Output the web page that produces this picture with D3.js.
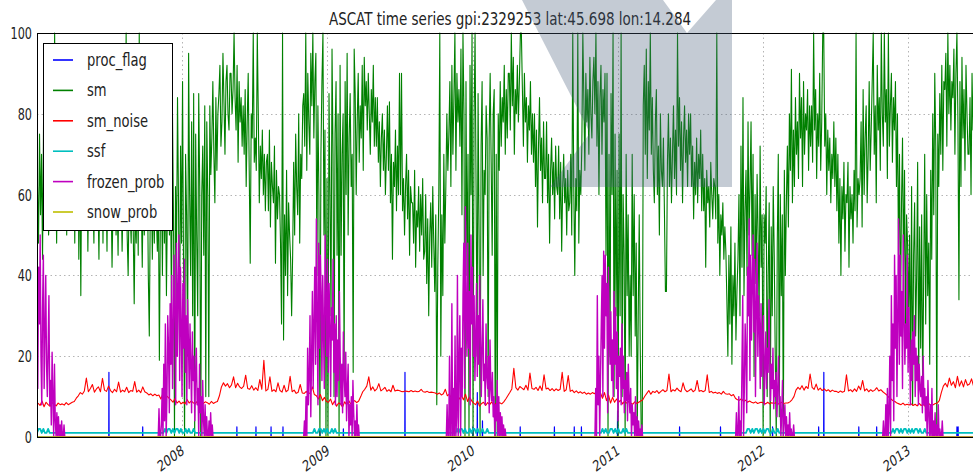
<!DOCTYPE html>
<html>
<head>
<meta charset="utf-8">
<script src="https://cdn.jsdelivr.net/npm/d3@7"></script>
<style>
  body { margin: 0; background: #fff; }
  svg { display: block; }
</style>
</head>
<body>
<svg id="chart" width="973" height="473"></svg>
<script>
// ---- labels and ticks ----
const chartTitle = 'ASCAT time series gpi:2329253 lat:45.698 lon:14.284';
const seriesNames = ['proc_flag', 'sm', 'sm_noise', 'ssf', 'frozen_prob', 'snow_prob'];
const seriesColors = ['#0000ff', '#008000', '#ff0000', '#00bfbf', '#bf00bf', '#bfbf00'];
const yTicks = [0, 20, 40, 60, 80, 100];
const xTickYears = [2008, 2009, 2010, 2011, 2012, 2013];
const timeStart = '2007-01-01';
const timeEnd = '2013-07-01';

// ---- sm: twelve readings per month, one array per year ----
const smYears = [2007, 2008, 2009, 2010, 2011, 2012, 2013];
const smPerYear = 144;
const sm2007 = [
  62, 48, 75, 55, 70, 44, 78, 52, 66, 58, 72, 50,
  60, 74, 52, 80, 58, 100, 66, 48, 70, 62, 55, 76,
  68, 55, 80, 62, 74, 50, 85, 64, 72, 58, 78, 66,
  70, 48, 76, 60, 82, 44, 68, 35, 72, 56, 64, 74,
  58, 72, 46, 66, 80, 52, 74, 60, 48, 70, 62, 56,
  60, 44, 68, 55, 76, 48, 70, 52, 64, 46, 72, 58,
  52, 62, 42, 58, 70, 66, 50, 60, 45, 68, 54, 62,
  46, 60, 54, 72, 100, 50, 40, 62, 56, 48, 66, 52,
  33, 58, 48, 64, 45, 100, 54, 60, 42, 66, 50, 58,
  52, 70, 40, 25, 58, 66, 44, 62, 48, 72, 55, 46,
  60, 19, 55, 68, 40, 72, 48, 64, 35, 58, 70, 50,
  66, 30, 80, 55, 0, 62, 45, 84, 58, 20, 72, 48];
const sm2008 = [
  88, 40, 0, 70, 55, 20, 95, 60, 40, 78, 30, 85,
  0, 75, 50, 30, 85, 62, 0, 60, 72, 45, 82, 10,
  78, 60, 10, 82, 65, 74, 88, 70, 58, 84, 66, 80,
  85, 92, 72, 78, 95, 83, 70, 88, 92, 80, 76, 90,
  90, 80, 86, 100, 84, 76, 92, 68, 88, 78, 84, 72,
  82, 70, 86, 62, 78, 90, 66, 43, 80, 74, 100, 68,
  74, 66, 100, 80, 58, 72, 64, 76, 60, 70, 56, 68,
  70, 56, 76, 52, 68, 62, 58, 72, 43, 66, 54, 62,
  60, 48, 28, 100, 24, 55, 40, 66, 35, 58, 50, 44,
  30, 45, 68, 50, 75, 62, 55, 80, 48, 70, 64, 82,
  85, 72, 100, 66, 90, 78, 70, 95, 82, 100, 74, 88,
  95, 40, 82, 60, 0, 70, 88, 100, 50, 76, 0, 64];
const sm2009 = [
  0, 85, 60, 30, 96, 70, 10, 75, 88, 45, 80, 0,
  92, 45, 70, 80, 16, 88, 60, 95, 50, 74, 85, 62,
  70, 16, 96, 85, 60, 78, 90, 68, 82, 74, 92, 66,
  94, 82, 88, 76, 90, 80, 70, 86, 78, 92, 72, 84,
  72, 84, 68, 78, 62, 74, 80, 66, 76, 60, 70, 82,
  66, 83, 58, 70, 44, 68, 62, 76, 56, 72, 60, 90,
  60, 90, 56, 64, 50, 62, 70, 54, 66, 45, 62, 58,
  58, 48, 66, 42, 56, 52, 62, 46, 60, 50, 64, 44,
  46, 60, 38, 54, 30, 50, 58, 42, 62, 48, 36, 55,
  8, 42, 60, 100, 20, 55, 35, 70, 48, 62, 80, 66,
  75, 88, 62, 92, 70, 84, 100, 66, 90, 78, 86, 72,
  96, 55, 100, 80, 0, 88, 40, 70, 0, 92, 60, 100];
const sm2010 = [
  0, 78, 100, 62, 20, 85, 50, 0, 72, 88, 40, 66,
  60, 82, 74, 10, 74, 90, 68, 45, 80, 86, 0, 70,
  0, 80, 66, 88, 72, 84, 78, 92, 70, 86, 74, 90,
  90, 76, 100, 82, 94, 70, 86, 80, 92, 78, 88, 100,
  100, 86, 72, 90, 78, 84, 68, 82, 76, 88, 70, 80,
  68, 80, 62, 76, 52, 72, 84, 66, 74, 58, 78, 64,
  64, 78, 58, 70, 48, 66, 74, 60, 68, 54, 72, 62,
  60, 72, 54, 68, 46, 62, 70, 58, 64, 50, 66, 56,
  58, 70, 50, 100, 62, 40, 64, 56, 100, 48, 66, 60,
  72, 100, 84, 66, 90, 78, 86, 70, 94, 80, 74, 88,
  94, 80, 100, 72, 88, 60, 84, 92, 70, 86, 78, 90,
  45, 90, 0, 70, 20, 85, 60, 100, 10, 75, 30, 66];
const sm2011 = [
  0, 75, 30, 100, 10, 60, 45, 0, 70, 35, 55, 20,
  40, 20, 70, 35, 60, 25, 48, 0, 30, 55, 22, 0,
  0, 82, 92, 70, 96, 64, 88, 76, 100, 70, 84, 66,
  58, 78, 86, 60, 72, 50, 80, 66, 62, 74, 56, 36,
  36, 68, 80, 62, 74, 58, 70, 82, 64, 76, 60, 100,
  72, 84, 66, 78, 58, 74, 82, 68, 76, 62, 80, 70,
  80, 62, 72, 54, 68, 60, 74, 58, 70, 64, 76, 56,
  70, 56, 64, 42, 66, 58, 62, 52, 68, 60, 54, 64,
  62, 54, 100, 48, 60, 40, 55, 50, 58, 44, 52, 46,
  34, 20, 45, 28, 52, 18, 40, 30, 48, 24, 36, 44,
  60, 30, 72, 42, 84, 35, 56, 66, 40, 78, 50, 62,
  78, 45, 70, 15, 60, 38, 65, 50, 30, 72, 42, 55];
const sm2012 = [
  0, 55, 48, 62, 10, 40, 58, 0, 52, 30, 62, 45,
  20, 0, 48, 70, 5, 60, 35, 55, 0, 66, 40, 58,
  72, 52, 80, 66, 91, 58, 76, 62, 84, 70, 78, 64,
  90, 74, 84, 62, 88, 70, 80, 76, 86, 66, 82, 72,
  82, 68, 100, 76, 86, 64, 80, 72, 90, 66, 78, 100,
  100, 72, 80, 60, 76, 66, 74, 58, 70, 64, 78, 62,
  74, 56, 70, 48, 64, 40, 62, 54, 68, 46, 60, 58,
  68, 42, 62, 54, 60, 48, 66, 56, 100, 52, 64, 60,
  64, 78, 52, 86, 60, 74, 82, 58, 70, 88, 66, 76,
  88, 100, 70, 82, 58, 92, 76, 84, 66, 100, 80, 72,
  100, 78, 86, 64, 100, 72, 82, 90, 68, 84, 76, 88,
  62, 80, 45, 70, 30, 58, 74, 40, 66, 25, 55, 48];
const sm2013 = [
  30, 50, 15, 62, 8, 45, 58, 25, 40, 68, 12, 52,
  22, 55, 10, 40, 70, 28, 60, 35, 48, 18, 66, 44,
  80, 55, 90, 72, 0, 75, 62, 85, 70, 92, 66, 88,
  86, 95, 72, 100, 80, 92, 76, 88, 84, 96, 70, 90,
  100, 78, 34, 88, 62, 94, 74, 86, 66, 92, 80, 70,
  70, 84, 60, 90, 76, 82, 68, 88, 72, 80, 64, 86];

// ---- sm_noise: six readings per month ----
const noisePerYear = 72;
const noise2007 = [
  8.4, 7.8, 8.9, 7.5, 8.6, 8.0,
  7.6, 8.5, 8.1, 7.7, 8.4, 8.0,
  8.2, 7.9, 8.5, 8.0, 8.3, 8.6,
  8.8, 9.6, 10.2, 11.0, 10.6, 11.4,
  14.6, 11.2, 12.0, 13.0, 11.1, 11.9,
  12.4, 11.2, 14.5, 11.6, 11.3, 12.6,
  11.5, 11.0, 11.8, 11.2, 13.6, 11.1,
  11.6, 11.2, 12.3, 11.0, 11.5, 11.3,
  13.7, 11.1, 11.6, 11.0, 12.4, 11.2,
  10.9, 10.4, 10.7, 10.2, 10.6, 10.2,
  10.4, 9.4, 10.8, 9.2, 10.1, 9.6,
  9.2, 8.6, 9.5, 8.4, 8.9, 8.2];
const noise2008 = [
  8.6, 8.2, 9.3, 8.4, 8.9, 8.5,
  8.2, 8.8, 8.4, 7.6, 8.3, 8.7,
  8.5, 8.1, 8.8, 8.3, 8.6, 8.8,
  10.2, 12.4, 13.4, 12.6, 13.2, 12.2,
  12.9, 14.9, 12.2, 13.3, 12.4, 12.0,
  12.6, 15.3, 12.0, 11.8, 12.7, 11.6,
  12.2, 11.5, 14.2, 11.8, 19.0, 11.4,
  11.8, 14.9, 11.3, 11.7, 11.2, 13.4,
  11.5, 11.1, 12.8, 11.2, 11.6, 15.0,
  11.2, 11.6, 10.8, 11.1, 13.0, 10.9,
  10.8, 11.3, 10.6, 11.0, 12.4, 10.5,
  10.2, 9.4, 10.5, 9.0, 9.8, 8.8];
const noise2009 = [
  8.6, 9.4, 8.0, 8.9, 7.6, 8.4,
  8.2, 7.4, 8.7, 8.0, 9.0, 8.2,
  8.7, 9.0, 8.5, 8.9, 10.0, 11.2,
  11.8, 12.6, 14.9, 11.6, 12.4, 11.4,
  11.9, 13.2, 11.4, 11.8, 12.3, 11.3,
  11.7, 11.2, 12.8, 11.4, 11.6, 11.5,
  11.3, 11.2, 11.4, 11.3, 11.2, 11.5,
  11.2, 11.4, 11.2, 11.3, 11.8, 11.2,
  11.1, 11.3, 11.0, 11.1, 11.0, 10.9,
  10.6, 10.9, 10.4, 10.7, 11.8, 10.2,
  10.6, 9.6, 10.9, 9.8, 10.4, 9.4,
  10.2, 9.2, 10.6, 8.8, 9.9, 9.0];
const noise2010 = [
  8.4, 8.0, 8.9, 7.6, 8.3, 8.6,
  7.8, 8.5, 8.0, 8.7, 7.9, 8.3,
  8.2, 8.5, 8.2, 8.7, 9.4, 10.2,
  11.0, 11.9, 17.0, 12.2, 11.6, 12.5,
  12.1, 11.7, 12.8, 11.6, 15.8, 12.0,
  11.8, 12.3, 11.5, 12.6, 11.5, 15.4,
  11.9, 12.1, 11.5, 12.0, 11.4, 11.9,
  11.5, 11.8, 16.0, 11.3, 11.7, 15.2,
  11.3, 11.6, 11.0, 11.4, 10.9, 11.2,
  10.8, 11.1, 10.6, 10.9, 10.6, 11.0,
  10.7, 11.3, 10.3, 10.9, 9.6, 11.0,
  9.0, 10.4, 8.4, 9.8, 8.6, 9.4];
const noise2011 = [
  8.6, 9.1, 8.2, 8.9, 8.4, 8.8,
  8.4, 8.1, 8.7, 8.3, 8.6, 8.9,
  9.2, 10.1, 10.8, 11.5, 10.6, 11.3,
  11.0, 11.5, 10.8, 11.3, 11.7, 11.2,
  11.5, 15.6, 11.2, 11.7, 11.4, 12.1,
  11.5, 11.2, 13.4, 11.7, 11.2, 11.5,
  11.9, 11.2, 11.6, 14.0, 11.3, 11.5,
  11.2, 11.5, 15.4, 11.0, 11.3, 10.9,
  11.1, 10.8, 11.0, 10.6, 11.3, 10.7,
  10.6, 10.7, 10.2, 10.5, 9.6, 9.2,
  9.1, 9.5, 8.8, 9.1, 8.6, 8.9,
  8.6, 8.4, 8.7, 8.3, 8.5, 8.6];
const noise2012 = [
  8.4, 8.2, 8.6, 8.2, 8.5, 8.3,
  8.5, 8.2, 8.3, 8.6, 8.3, 8.4,
  8.4, 8.7, 9.2, 10.0, 11.6, 12.3,
  11.8, 12.7, 11.6, 12.5, 12.0, 15.6,
  12.3, 11.8, 13.1, 11.6, 12.1, 11.5,
  11.9, 11.4, 11.7, 11.2, 11.6, 11.3,
  11.3, 11.0, 11.4, 11.1, 11.3, 15.4,
  11.4, 11.7, 11.2, 11.9, 11.3, 12.6,
  11.7, 14.0, 11.4, 11.9, 11.2, 11.7,
  11.3, 11.6, 12.2, 11.4, 11.7, 11.2,
  10.8, 10.4, 9.8, 9.4, 9.0, 8.8,
  8.4, 8.2, 8.0, 8.4, 7.9, 8.1];
const noise2013 = [
  7.9, 8.2, 7.8, 8.1, 7.7, 8.3,
  7.8, 8.1, 7.6, 8.0, 8.2, 7.8,
  8.0, 8.3, 8.4, 9.0, 11.0, 12.6,
  13.3, 12.4, 14.6, 12.8, 13.7, 12.2,
  15.0, 12.6, 13.9, 12.4, 14.2, 12.8,
  13.1, 14.4, 12.6, 13.3, 12.4, 13.8];

// ---- frozen_prob: winter readings every 2 days, zero in between ----
const winterStarts = ['2007-01-01', '2007-11-02', '2008-11-02', '2009-10-25', '2010-11-05', '2011-10-25', '2012-10-29'];
const winterStepDays = 2;
const frozen2007 = [30, 12, 42, 28, 50, 20, 8, 32, 45, 12, 26, 40, 18, 10, 22, 35, 8, 14, 3, 21, 10, 0, 18, 4, 0, 6,
  0, 5, 0, 3, 0, 4, 0, 0, 3, 0, 0];
const frozen2008 = [0, 7, 0, 0, 3, 12, 0, 18, 4, 28, 0, 10, 30, 22, 6, 33, 18, 40, 12, 26, 45, 30, 8, 48, 20, 36, 50,
  14, 42, 28, 10, 38, 22, 44, 16, 30, 8, 34, 24, 12, 28, 18, 6, 26, 14, 20, 4, 16, 22, 8, 12, 0, 18, 6, 10, 0, 14, 4,
  0, 8, 0, 5, 0, 0, 4, 0, 6, 0, 3, 0, 0, 0];
const frozen2009 = [0, 4, 0, 10, 0, 22, 8, 15, 30, 5, 20, 36, 12, 28, 42, 18, 54, 30, 8, 48, 22, 45, 36, 14, 40, 26,
  12, 50, 34, 20, 44, 16, 38, 28, 10, 32, 24, 44, 16, 28, 8, 30, 10, 24, 14, 36, 20, 8, 18, 6, 26, 15, 10, 21, 4, 12,
  18, 0, 8, 3, 10, 0, 14, 6, 0, 4, 0, 8, 0, 3, 0, 0, 0];
const frozen2010 = [0, 0, 8, 0, 0, 20, 0, 0, 33, 0, 12, 0, 25, 0, 5, 40, 0, 18, 30, 0, 22, 10, 35, 48, 12, 57, 30, 20,
  48, 22, 36, 8, 50, 28, 42, 20, 35, 14, 24, 38, 15, 30, 18, 40, 26, 10, 22, 34, 14, 18, 8, 28, 15, 12, 20, 6, 24, 12,
  9, 16, 5, 10, 0, 8, 4, 14, 0, 10, 0, 6, 0, 5, 0, 3, 0, 2, 0, 0, 0];
const frozen2011 = [0, 12, 0, 35, 8, 20, 0, 15, 28, 40, 10, 46, 22, 45, 30, 38, 6, 42, 26, 18, 31, 14, 24, 10, 36, 18,
  32, 12, 26, 4, 20, 15, 22, 8, 28, 12, 20, 6, 14, 9, 16, 4, 18, 10, 6, 12, 0, 8, 3, 6, 0, 10, 0, 5, 0, 4, 0, 2, 0, 3,
  0, 0, 0];
const frozen2012 = [0, 6, 0, 0, 10, 0, 4, 0, 18, 35, 0, 12, 28, 20, 6, 42, 30, 54, 14, 45, 24, 38, 50, 26, 44, 10, 32,
  48, 20, 35, 28, 12, 33, 15, 24, 30, 8, 18, 26, 12, 22, 16, 34, 20, 9, 18, 12, 22, 7, 14, 10, 16, 5, 12, 20, 8, 10, 0,
  6, 14, 0, 4, 8, 0, 5, 0, 3, 0, 6, 0, 2, 0, 0, 3, 0, 0];
const frozen2013 = [0, 4, 0, 0, 8, 0, 12, 0, 6, 20, 0, 35, 14, 28, 4, 45, 22, 40, 10, 30, 54, 18, 45, 25, 36, 12, 50,
  30, 18, 28, 22, 45, 16, 32, 20, 8, 24, 14, 26, 18, 30, 10, 22, 14, 20, 8, 18, 12, 10, 15, 6, 20, 8, 12, 4, 10, 0, 14,
  6, 0, 8, 0, 12, 0, 4, 0, 6, 0, 3, 0, 8, 0, 2, 0, 0, 4, 0, 0, 0];

// ---- ssf: winter readings every 4 days, 1 the rest of the year ----
const ssfStarts = ['2007-01-01', '2007-11-15', '2008-11-25', '2009-11-15', '2010-11-20', '2011-11-20', '2012-11-20'];
const ssfStepDays = 4;
const ssf2007 = [1, 2, 2, 1, 2, 1, 1, 2, 1, 1];
const ssf2008 = [1, 2, 1, 2, 2, 1, 2, 1, 2, 2, 1, 2, 1, 1, 2, 1, 2, 1, 1, 2, 1, 1, 1];
const ssf2009 = [1, 2, 1, 1, 2, 2, 1, 2, 1, 2, 1, 1, 2, 1, 2, 1, 1, 1, 1, 1];
const ssf2010 = [1, 1, 2, 1, 2, 2, 1, 2, 1, 1, 2, 1, 2, 2, 1, 2, 1, 1, 2, 1, 1, 2, 1, 1, 1];
const ssf2011 = [1, 2, 1, 2, 1, 1, 2, 2, 1, 2, 1, 2, 1, 1, 2, 1, 2, 1, 1, 1, 1, 1, 1];
const ssf2012 = [1, 2, 2, 1, 2, 1, 2, 2, 1, 2, 1, 2, 1, 2, 2, 1, 1, 2, 1, 1, 2, 1, 1, 1];
const ssf2013 = [1, 2, 1, 2, 2, 1, 2, 1, 2, 2, 1, 2, 1, 2, 1, 2, 2, 1, 2, 1, 1, 2, 1, 1, 1];

// ---- proc_flag: non-zero readings ----
const procFlagDates = ['2007-07-01', '2007-09-24', '2008-05-18', '2008-07-05', '2008-08-12', '2008-09-11',
  '2008-12-13', '2009-02-10', '2009-07-15', '2010-01-02', '2010-01-13', '2010-01-26', '2010-05-01', '2010-07-26',
  '2010-09-14', '2010-10-02', '2011-01-01', '2011-06-06', '2011-09-17', '2012-01-26', '2012-05-21', '2012-06-03',
  '2012-08-30', '2012-10-14', '2012-11-08', '2013-05-04', '2013-05-07'];
const procFlagValues = [16, 2.5, 2.5, 2.5, 2.5, 2.5, 2, 2, 16, 2.5, 11, 4, 2.5, 2.5, 2.5, 2.5, 6.5, 2.5, 2.5, 2.5,
  2.5, 16, 2.5, 2.5, 2.5, 2.5, 2.5];

// ---- snow_prob ----
const snowProbDates = ['2007-01-01', '2013-07-01'];
const snowProbValues = [0, 0];

// ---------------------------------------------------------------
const DAY = 864e5;
const parse = s => new Date(s + 'T00:00:00Z');

function spreadOverYear(year, values, perYear) {
  const t0 = Date.UTC(year, 0, 1), t1 = Date.UTC(year + 1, 0, 1);
  return values.map((v, i) => ({ d: new Date(t0 + (i + 0.5) * (t1 - t0) / perYear), v }));
}
function stepped(start, stepDays, values) {
  const t0 = parse(start).getTime();
  return values.map((v, i) => ({ d: new Date(t0 + i * stepDays * DAY), v }));
}

const smByYear = [sm2007, sm2008, sm2009, sm2010, sm2011, sm2012, sm2013];
const noiseByYear = [noise2007, noise2008, noise2009, noise2010, noise2011, noise2012, noise2013];
const frozenByWinter = [frozen2007, frozen2008, frozen2009, frozen2010, frozen2011, frozen2012, frozen2013];
const ssfByWinter = [ssf2007, ssf2008, ssf2009, ssf2010, ssf2011, ssf2012, ssf2013];

const t0 = parse(timeStart), t1 = parse(timeEnd);

const smPts = smYears.flatMap((y, i) => spreadOverYear(y, smByYear[i], smPerYear));
const noisePts = smYears.flatMap((y, i) => spreadOverYear(y, noiseByYear[i], noisePerYear));
const frozenPts = winterStarts.flatMap((s, i) => stepped(s, winterStepDays, frozenByWinter[i]));
frozenPts.push({ d: t1, v: 0 });
const ssfPts = ssfStarts.flatMap((s, i) => stepped(s, ssfStepDays, ssfByWinter[i]));
ssfPts.push({ d: t1, v: ssfPts[ssfPts.length - 1].v });
const procPts = [{ d: t0, v: 0 }];
procFlagDates.forEach((s, i) => {
  const t = parse(s).getTime();
  procPts.push({ d: new Date(t - 0.4 * DAY), v: 0 }, { d: new Date(t), v: procFlagValues[i] }, { d: new Date(t + 0.4 * DAY), v: 0 });
});
procPts.push({ d: t1, v: 0 });
const snowPts = snowProbDates.map((s, i) => ({ d: parse(s), v: snowProbValues[i] }));

// ---- layout ----
const svg = d3.select('#chart');
const plot = { left: 37, right: 980, top: 33, bottom: 437 };
const squeeze = 0.75;
const font = "'DejaVu Sans', sans-serif";

const x = d3.scaleUtc().domain([t0, t1]).range([plot.left, plot.right]);
const y = d3.scaleLinear().domain([0, 100]).range([plot.bottom, plot.top]);

svg.append('defs').append('clipPath').attr('id', 'plotclip')
  .append('rect').attr('x', plot.left).attr('y', plot.top - 1)
  .attr('width', plot.right - plot.left).attr('height', plot.bottom - plot.top + 2);

// grid
const grid = svg.append('g').attr('stroke', '#b4b4b4').attr('stroke-width', 1).attr('stroke-dasharray', '1.5,3');
const yearDates = xTickYears.map(yr => new Date(Date.UTC(yr, 0, 1)));
grid.selectAll('line.gx').data(yearDates).join('line')
  .attr('x1', d => Math.round(x(d)) + 0.5).attr('x2', d => Math.round(x(d)) + 0.5)
  .attr('y1', plot.top).attr('y2', plot.bottom);
grid.selectAll('line.gy').data(yTicks.filter(v => v > 0 && v < 100)).join('line')
  .attr('x1', plot.left).attr('x2', plot.right)
  .attr('y1', d => Math.round(y(d)) + 0.5).attr('y2', d => Math.round(y(d)) + 0.5);

// series
const line = d3.line().x(p => x(p.d)).y(p => y(p.v));
const seriesPts = [procPts, smPts, noisePts, ssfPts, frozenPts, snowPts];
const seriesWidths = [1.2, 1.1, 1.1, 1.8, 1.4, 1.4];
const lines = svg.append('g').attr('clip-path', 'url(#plotclip)');
seriesPts.forEach((pts, i) => {
  lines.append('path').datum(pts)
    .attr('fill', 'none')
    .attr('stroke', seriesColors[i])
    .attr('stroke-width', seriesWidths[i])
    .attr('stroke-linejoin', 'round')
    .attr('d', line);
});

// frame
const frame = svg.append('g').attr('stroke', '#000').attr('stroke-width', 1);
frame.append('line').attr('x1', plot.left + 0.5).attr('x2', plot.left + 0.5).attr('y1', plot.top).attr('y2', plot.bottom + 0.5);
frame.append('line').attr('x1', plot.left).attr('x2', plot.right).attr('y1', plot.top + 0.5).attr('y2', plot.top + 0.5);
frame.append('line').attr('x1', plot.left).attr('x2', plot.right).attr('y1', plot.bottom + 0.5).attr('y2', plot.bottom + 0.5);

// axes (tick text only; the frame is drawn above)
const yAxis = svg.append('g').attr('transform', `translate(${plot.left},0)`)
  .call(d3.axisLeft(y).tickValues(yTicks).tickSize(0).tickPadding(0).tickFormat(d3.format('d')));
yAxis.select('.domain').remove();
yAxis.selectAll('text')
  .attr('x', -5 / squeeze).attr('dy', '0.36em')
  .attr('transform', `scale(${squeeze},1)`)
  .attr('font-family', font).attr('font-size', 15).attr('fill', '#222');

const xAxis = svg.append('g').attr('transform', `translate(0,${plot.bottom})`)
  .call(d3.axisBottom(x).tickValues(yearDates).tickSize(0).tickFormat(d3.utcFormat('%Y')));
xAxis.select('.domain').remove();
xAxis.selectAll('text')
  .attr('x', 0).attr('y', 0).attr('dy', '0.78em')
  .attr('text-anchor', 'end')
  .attr('transform', `translate(-2,6) scale(${squeeze},1) rotate(-30)`)
  .attr('font-family', font).attr('font-size', 15).attr('fill', '#222');

// title
svg.append('text')
  .attr('transform', `translate(510,25) scale(${squeeze},1)`)
  .attr('text-anchor', 'middle')
  .attr('font-family', font).attr('font-size', 18).attr('fill', '#222')
  .text(chartTitle);

// legend
const legend = svg.append('g');
legend.append('rect').attr('x', 43.5).attr('y', 43.5).attr('width', 129).attr('height', 187)
  .attr('fill', '#fff').attr('stroke', '#000').attr('stroke-width', 1);
const legendRow = d3.scaleLinear().domain([0, seriesNames.length - 1]).range([60, 212]);
seriesNames.forEach((name, i) => {
  const cy = legendRow(i);
  legend.append('line').attr('x1', 53).attr('x2', 73).attr('y1', cy).attr('y2', cy)
    .attr('stroke', seriesColors[i]).attr('stroke-width', 1.6);
  legend.append('text')
    .attr('transform', `translate(87,${cy + 6}) scale(${squeeze},1)`)
    .attr('font-family', font).attr('font-size', 17.5).attr('fill', '#222')
    .text(name);
});

// translucent arrow graphic laid over the top of the chart
const arrowShape = [[522, 0], [663, 0], [687, 33], [716, 0], [732, 0], [732, 187], [550, 187], [590, 133]];
svg.append('path')
  .attr('d', 'M' + arrowShape.map(p => p.join(',')).join('L') + 'Z')
  .attr('fill', 'rgb(70,92,120)').attr('fill-opacity', 0.32);
</script>
</body>
</html>
